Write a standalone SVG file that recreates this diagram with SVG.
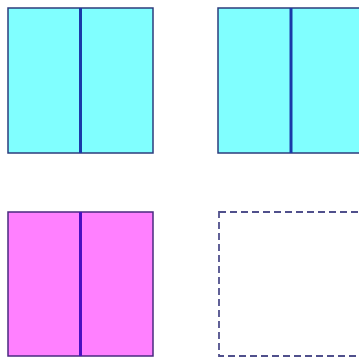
<svg xmlns="http://www.w3.org/2000/svg" width="359" height="360" viewBox="0 0 359 360">
<style>
.box{stroke:#2c3c7c;stroke-width:1.5}
.cyan{fill:#80ffff}
.pink{fill:#ff80ff;stroke:#4a2a80}
.div{stroke:#1a3aa8;stroke-width:3}
.divp{stroke:#4a10c0;stroke-width:3}
.dash{fill:#ffffff;stroke:#50508c;stroke-width:1.8;stroke-dasharray:7,4}
</style>
<rect width="359" height="360" fill="#ffffff"/>
<g id="box1">
<rect class="box cyan" x="8" y="8" width="145" height="145"/>
<line class="div" x1="80.5" y1="8" x2="80.5" y2="153"/>
</g>
<g id="box2">
<rect class="box cyan" x="218" y="8" width="145" height="145"/>
<line class="div" x1="291" y1="8" x2="291" y2="153"/>
</g>
<g id="box3">
<rect class="box pink" x="8" y="212" width="145" height="144"/>
<line class="divp" x1="80.5" y1="212" x2="80.5" y2="356"/>
</g>
<g id="box4">
<rect class="dash" x="219" y="212" width="145" height="144"/>
</g>
<g id="connectors"></g>
</svg>
